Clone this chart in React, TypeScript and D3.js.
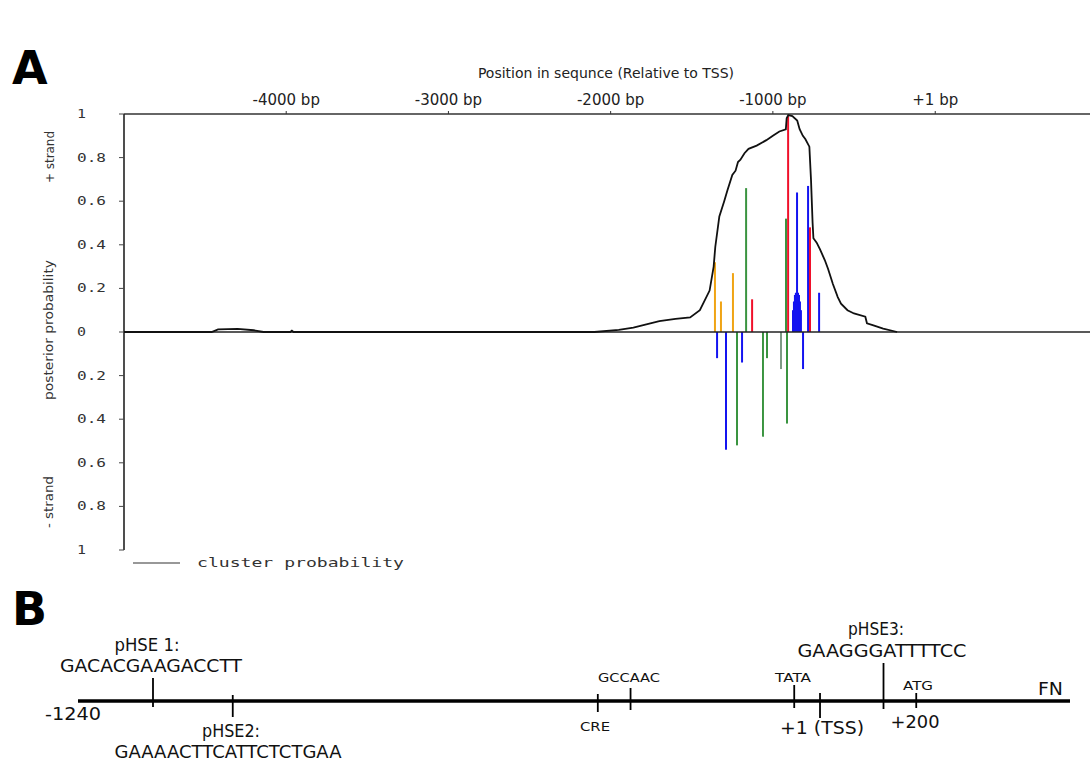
import React from "react";
import * as d3 from "d3";

// ---------- Panel A data ----------
const xTickValues = [-4000, -3000, -2000, -1000, 1];
const xTickLabels = ["-4000 bp", "-3000 bp", "-2000 bp", "-1000 bp", "+1 bp"];
const yTickValues = [1, 0.8, 0.6, 0.4, 0.2, 0, -0.2, -0.4, -0.6, -0.8, -1];
const yTickLabels = ["1", "0.8", "0.6", "0.4", "0.2", "0", "0.2", "0.4", "0.6", "0.8", "1"];

// cluster probability curve: [position bp, probability]
const clusterCurve: [number, number][] = [
  [-5000, 0], [-4460, 0], [-4420, 0.012], [-4300, 0.014], [-4200, 0.008], [-4140, 0],
  [-3975, 0], [-3965, 0.006], [-3955, 0], [-2100, 0], [-1950, 0.01], [-1860, 0.02],
  [-1780, 0.035], [-1700, 0.05], [-1600, 0.06], [-1510, 0.067], [-1450, 0.1], [-1390, 0.19],
  [-1365, 0.3], [-1355, 0.39], [-1330, 0.53], [-1300, 0.6], [-1280, 0.65], [-1250, 0.72],
  [-1230, 0.74], [-1215, 0.78], [-1200, 0.79], [-1175, 0.82], [-1150, 0.84], [-1100, 0.855],
  [-1040, 0.88], [-1000, 0.9], [-960, 0.92], [-920, 0.93], [-915, 0.98], [-905, 0.995],
  [-880, 0.99], [-850, 0.97], [-835, 0.93], [-815, 0.9], [-800, 0.885], [-775, 0.85],
  [-765, 0.7], [-755, 0.5], [-750, 0.43], [-730, 0.41], [-710, 0.38], [-680, 0.33],
  [-660, 0.29], [-630, 0.22], [-600, 0.16], [-580, 0.13], [-540, 0.1], [-500, 0.085],
  [-430, 0.07], [-420, 0.04], [-380, 0.03], [-320, 0.016], [-234, 0], [1000, 0],
];

// motif site posterior probabilities: [position bp, probability, motif type]
const plusStrandSites: [number, number, string][] = [
  [-1357, 0.32, "orange"], [-1320, 0.14, "orange"], [-1246, 0.27, "orange"],
  [-1165, 0.66, "green"], [-1128, 0.15, "red"], [-919, 0.52, "green"], [-906, 0.99, "red"],
  [-876, 0.1, "blue"], [-870, 0.14, "blue"], [-864, 0.17, "blue"], [-858, 0.18, "blue"],
  [-851, 0.64, "blue"], [-845, 0.18, "blue"], [-839, 0.17, "blue"], [-833, 0.14, "blue"],
  [-827, 0.1, "blue"], [-783, 0.67, "blue"], [-771, 0.48, "red"], [-715, 0.18, "blue"],
];
const minusStrandSites: [number, number, string][] = [
  [-1344, 0.12, "blue"], [-1289, 0.54, "blue"], [-1221, 0.52, "green"], [-1190, 0.14, "blue"],
  [-1061, 0.48, "green"], [-1036, 0.12, "green"], [-950, 0.17, "gray"], [-913, 0.42, "green"],
  [-814, 0.17, "blue"],
];
const motifColors: Record<string, string> = {
  orange: "#f0a414",
  green: "#3a9440",
  red: "#f0102a",
  blue: "#1414f0",
  gray: "#7f9a86",
};

// ---------- Panel B data (schematic position, 0..100 along the line) ----------
const schemeSites = ["pHSE1", "pHSE2", "CRE", "GCCAAC", "TATA", "TSS", "pHSE3", "ATG"];
const schemePos = [7.56, 15.6, 52.4, 55.7, 72.2, 74.8, 81.2, 84.5];
const schemeTickUp = [23, 6, 7, 13, 16, 8, 38, 8];
const schemeTickDown = [6, 16, 11, 9, 7, 17, 8, 7];

const FONT = "'DejaVu Sans', Verdana, sans-serif";
const MONO = "'DejaVu Sans Mono', 'Liberation Mono', monospace";

export default function App() {
  const W = 1090, H = 769;
  const x = d3.scaleLinear().domain([-5000, 1000]).range([124, 1097.3]);
  const y = d3.scaleLinear().domain([-1, 1]).range([550, 114]);
  const line = d3.line<[number, number]>().x((d) => x(d[0])).y((d) => y(d[1]));

  const bx = d3.scaleLinear().domain([0, 100]).range([78, 1070]);
  const by = 701;

  const labelsB = [
    { t: "pHSE 1:", x: 147, y: 651, s: 17, w: 65 },
    { t: "GACACGAAGACCTT", x: 151, y: 672, s: 17, w: 182 },
    { t: "pHSE2:", x: 231, y: 737, s: 17, w: 58 },
    { t: "GAAAACTTCATTCTCTGAA", x: 228, y: 758, s: 17, w: 227 },
    { t: "CRE", x: 595, y: 731, s: 12, w: 30 },
    { t: "GCCAAC", x: 629, y: 682, s: 12, w: 62 },
    { t: "TATA", x: 793, y: 682, s: 12, w: 36 },
    { t: "+1 (TSS)", x: 822, y: 734, s: 17, w: 84 },
    { t: "pHSE3:", x: 876, y: 635, s: 17, w: 56 },
    { t: "GAAGGGATTTTCC", x: 882, y: 657, s: 17, w: 169 },
    { t: "ATG", x: 918, y: 690, s: 12, w: 30 },
    { t: "+200", x: 915, y: 728, s: 17, w: 49 },
  ];

  return (
    <svg width={W} height={H} style={{ position: "absolute", left: 0, top: 0, background: "#fff" }}>
      {/* Panel labels */}
      <text x={12} y={84} fontFamily={FONT} fontWeight="bold" fontSize={46} fill="#000">A</text>
      <text x={12} y={625} fontFamily={FONT} fontWeight="bold" fontSize={46} fill="#000">B</text>

      {/* Panel A title */}
      <text x={606} y={78} textAnchor="middle" fontFamily={FONT} fontSize={14} fill="#222">
        Position in sequnce (Relative to TSS)
      </text>

      {/* top axis */}
      <line x1={124} x2={1090} y1={114} y2={114} stroke="#333" strokeWidth={1.5} />
      {xTickValues.map((v, i) => (
        <g key={"xt" + i}>
          <line x1={x(v)} x2={x(v)} y1={111} y2={114} stroke="#333" />
          <text x={x(v)} y={105} textAnchor="middle" fontFamily={FONT} fontSize={15} fill="#222">
            {xTickLabels[i]}
          </text>
        </g>
      ))}

      {/* left axis */}
      <line x1={124} x2={124} y1={114} y2={550} stroke="#222" strokeWidth={1.6} />
      {yTickValues.map((v, i) => (
        <g key={"yt" + i}>
          <line x1={119} x2={124} y1={y(v)} y2={y(v)} stroke="#444" />
          <text x={77} y={y(v) + 4} fontFamily={MONO} fontSize={13} fill="#333"
            textLength={yTickLabels[i].length > 1 ? 29 : 9} lengthAdjust="spacingAndGlyphs">
            {yTickLabels[i]}
          </text>
        </g>
      ))}

      {/* side labels */}
      <text transform="translate(54,157) rotate(-90)" textAnchor="middle" fontFamily={FONT} fontSize={12} fill="#333" textLength={52} lengthAdjust="spacingAndGlyphs">+ strand</text>
      <text transform="translate(53,330) rotate(-90)" textAnchor="middle" fontFamily={FONT} fontSize={12} fill="#333" textLength={140} lengthAdjust="spacingAndGlyphs">posterior probability</text>
      <text transform="translate(53,502) rotate(-90)" textAnchor="middle" fontFamily={FONT} fontSize={12} fill="#333" textLength={52} lengthAdjust="spacingAndGlyphs">- strand</text>

      {/* motif bars */}
      {plusStrandSites.map((s, i) => (
        <line key={"p" + i} x1={x(s[0])} x2={x(s[0])} y1={y(0)} y2={y(s[1])}
          stroke={motifColors[s[2]]} strokeWidth={2} />
      ))}
      {minusStrandSites.map((s, i) => (
        <line key={"m" + i} x1={x(s[0])} x2={x(s[0])} y1={y(0)} y2={y(-s[1])}
          stroke={motifColors[s[2]]} strokeWidth={2} />
      ))}

      {/* zero line */}
      <line x1={124} x2={1090} y1={y(0)} y2={y(0)} stroke="#222" strokeWidth={1.6} />

      {/* cluster curve */}
      <path d={line(clusterCurve.filter((d) => d[0] <= 960)) || ""} fill="none" stroke="#111" strokeWidth={1.8} />

      {/* legend */}
      <line x1={133} x2={180} y1={563} y2={563} stroke="#333" strokeWidth={1.2} />
      <text x={197} y={567} fontFamily={MONO} fontSize={13} fill="#333" textLength={207} lengthAdjust="spacingAndGlyphs">cluster probability</text>

      {/* Panel B */}
      <line x1={bx(0)} x2={bx(100)} y1={by} y2={by} stroke="#000" strokeWidth={3.5} />
      {schemeSites.map((s, i) => (
        <line key={"bt" + s} x1={bx(schemePos[i])} x2={bx(schemePos[i])}
          y1={by - schemeTickUp[i]} y2={by + schemeTickDown[i]} stroke="#000" strokeWidth={1.8} />
      ))}
      <text x={45} y={720} fontFamily={FONT} fontSize={17} fill="#111" textLength={56} lengthAdjust="spacingAndGlyphs">-1240</text>
      <text x={1038} y={695} fontFamily={FONT} fontSize={18} fill="#111" textLength={25} lengthAdjust="spacingAndGlyphs">FN</text>
      {labelsB.map((l, i) => (
        <text key={"lb" + i} x={l.x} y={l.y} textAnchor="middle" fontFamily={FONT} fontSize={l.s}
          fill="#111" textLength={l.w} lengthAdjust="spacingAndGlyphs">
          {l.t}
        </text>
      ))}
    </svg>
  );
}
